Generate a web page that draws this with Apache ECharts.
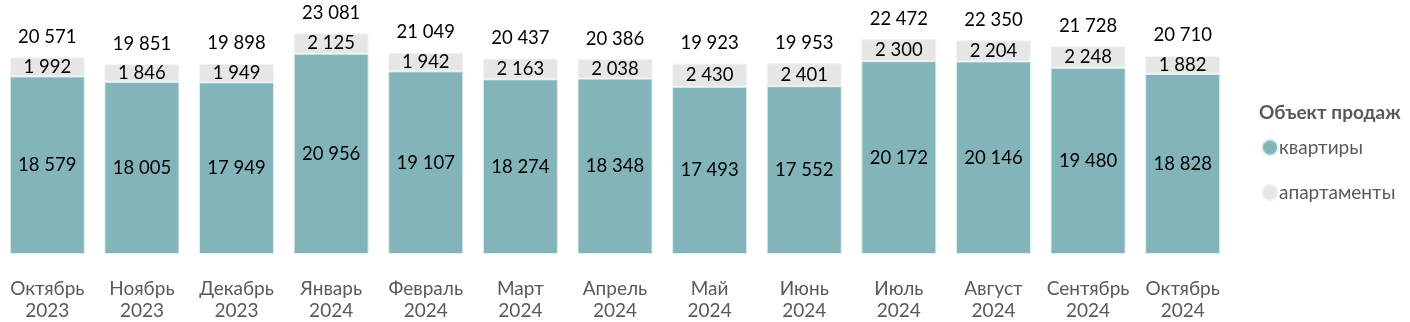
<!DOCTYPE html>
<html><head><meta charset="utf-8">
<script src="https://cdn.jsdelivr.net/npm/echarts@6/dist/echarts.min.js"></script>
<style>html,body{margin:0;padding:0;background:#fff}#c{width:1410px;height:322px}</style>
</head><body><div id="c"></div>
<script>
var categories = ["Октябрь\n2023","Ноябрь\n2023","Декабрь\n2023","Январь\n2024","Февраль\n2024","Март\n2024","Апрель\n2024","Май\n2024","Июнь\n2024","Июль\n2024","Август\n2024","Сентябрь\n2024","Октябрь\n2024"];
var flats = [18579,18005,17949,20956,19107,18274,18348,17493,17552,20172,20146,19480,18828];
var apartments = [1992,1846,1949,2125,1942,2163,2038,2430,2401,2300,2204,2248,1882];
var totals = [20571,19851,19898,23081,21049,20437,20386,19923,19953,22472,22350,21728,20710];
var seriesNames = ["квартиры","апартаменты"];
var legendTitle = "Объект продаж";

function fmt(v){ return String(v).replace(/\B(?=(\d{3})+(?!\d))/g, ' '); }
var FONT = "Lato, 'Open Sans', sans-serif";
var chart = echarts.init(document.getElementById('c'));
chart.setOption({
  animation:false,
  textStyle:{fontFamily:FONT},
  title:{text:legendTitle,left:1254,top:98,textStyle:{fontFamily:FONT,fontSize:19,fontWeight:'bold',color:'#595959'}},
  legend:{orient:'vertical',left:1256,top:133,itemGap:26,icon:'circle',itemWidth:16,itemHeight:16,
    data:seriesNames,textStyle:{fontFamily:FONT,fontSize:19,color:'#595959',padding:[0,0,0,-4]}},
  grid:{left:-2,top:15,width:1232,bottom:68,containLabel:false},
  xAxis:{type:'category',data:categories,axisLine:{show:false},axisTick:{show:false},
    axisLabel:{color:'#595959',fontSize:19,lineHeight:22,margin:24,interval:0,fontFamily:FONT}},
  yAxis:{type:'value',min:0,max:25000,show:false,splitLine:{show:false}},
  series:[
    {name:seriesNames[0],type:'bar',stack:'s',data:flats,barWidth:75,
     itemStyle:{color:'#82B4B9',borderColor:'#DDEEF0',borderWidth:1},
     label:{show:true,position:'inside',color:'#000',fontSize:18.5,fontFamily:FONT,formatter:function(p){return fmt(p.value);}}},
    {name:seriesNames[1],type:'bar',stack:'s',data:apartments,barWidth:75,
     itemStyle:{color:'#E6E6E6',borderColor:'#F4F4F4',borderWidth:1},
     label:{show:true,position:'inside',color:'#000',fontSize:18.5,fontFamily:FONT,formatter:function(p){return fmt(p.value);}}},
    {name:'total',type:'bar',stack:'s',data:totals.map(function(){return 0;}),barWidth:75,
     itemStyle:{color:'transparent'},
     label:{show:true,position:'top',distance:11,color:'#000',fontSize:18.5,fontFamily:FONT,formatter:function(p){return fmt(totals[p.dataIndex]);}}}
  ]
});
</script></body></html>
